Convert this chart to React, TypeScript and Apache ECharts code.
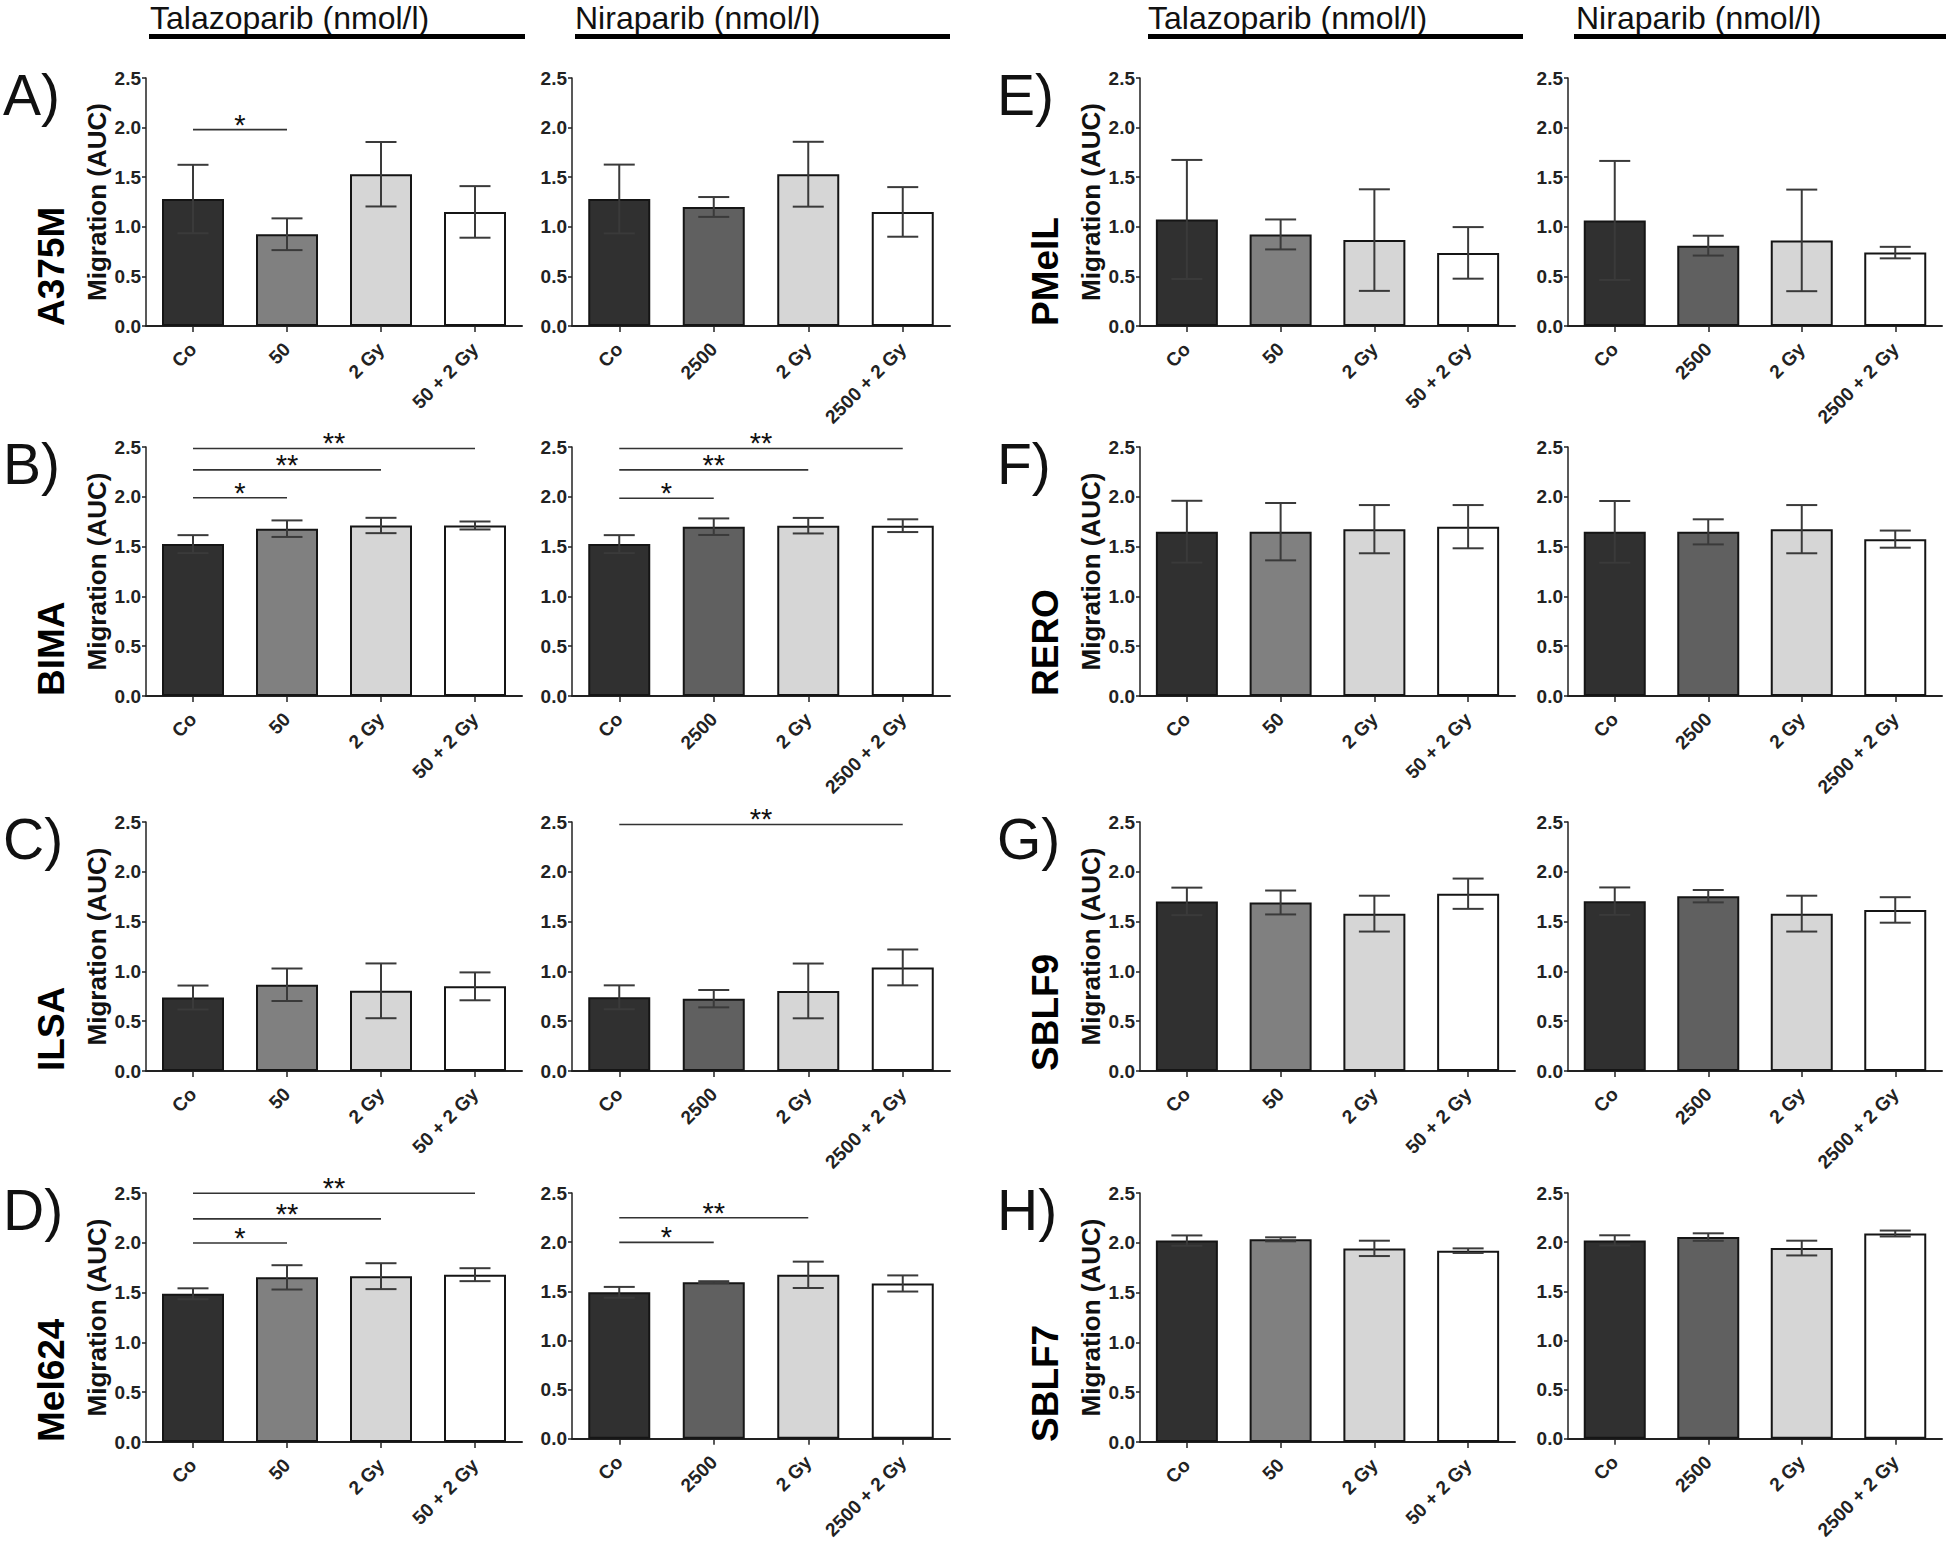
import React, { useEffect, useRef } from "react";
import * as echarts from "echarts";

// ---------- categories ----------
const talaCats = ["Co", "50", "2 Gy", "50 + 2 Gy"];
const niraCats = ["Co", "2500", "2 Gy", "2500 + 2 Gy"];
const talaColors = ["#303030", "#808080", "#d6d6d6", "#ffffff"];
const niraColors = ["#303030", "#606060", "#d6d6d6", "#ffffff"];
const yMin = 0;
const yMax = 2.5;
const yStep = 0.5;

// ---------- values (mean) and SD ----------
const a375mTala = [1.28, 0.925, 1.53, 1.15];
const a375mTalaErr = [0.345, 0.16, 0.325, 0.26];
const a375mNira = [1.28, 1.2, 1.53, 1.15];
const a375mNiraErr = [0.347, 0.1, 0.327, 0.25];

const bimaTala = [1.525, 1.68, 1.712, 1.712];
const bimaTalaErr = [0.09, 0.083, 0.077, 0.04];
const bimaNira = [1.525, 1.7, 1.71, 1.71];
const bimaNiraErr = [0.09, 0.083, 0.078, 0.064];

const ilsaTala = [0.738, 0.866, 0.805, 0.85];
const ilsaTalaErr = [0.12, 0.163, 0.275, 0.14];
const ilsaNira = [0.74, 0.726, 0.804, 1.04];
const ilsaNiraErr = [0.12, 0.087, 0.275, 0.18];

const mel624Tala = [1.488, 1.653, 1.665, 1.68];
const mel624TalaErr = [0.055, 0.122, 0.13, 0.065];
const mel624Nira = [1.49, 1.593, 1.668, 1.58];
const mel624NiraErr = [0.055, 0.01, 0.134, 0.082];

const pmelTala = [1.074, 0.923, 0.866, 0.737];
const pmelTalaErr = [0.6, 0.151, 0.512, 0.26];
const pmelNira = [1.064, 0.81, 0.863, 0.74];
const pmelNiraErr = [0.6, 0.1, 0.512, 0.058];

const reroTala = [1.65, 1.65, 1.675, 1.7];
const reroTalaErr = [0.31, 0.288, 0.242, 0.217];
const reroNira = [1.648, 1.648, 1.675, 1.575];
const reroNiraErr = [0.31, 0.126, 0.242, 0.086];

const sblf9Tala = [1.703, 1.692, 1.58, 1.78];
const sblf9TalaErr = [0.138, 0.12, 0.18, 0.152];
const sblf9Nira = [1.705, 1.755, 1.58, 1.617];
const sblf9NiraErr = [0.138, 0.062, 0.18, 0.128];

const sblf7Tala = [2.022, 2.035, 1.944, 1.921];
const sblf7TalaErr = [0.052, 0.02, 0.077, 0.023];
const sblf7Nira = [2.018, 2.052, 1.94, 2.088];
const sblf7NiraErr = [0.052, 0.038, 0.075, 0.03];

// ---------- significance brackets: [fromIdx, toIdx, y, stars] ----------
const a375mTalaSig = [[0, 1, 1.98, 1]];
const bimaTalaSig = [[0, 1, 1.99, 1], [0, 2, 2.27, 2], [0, 3, 2.485, 2]];
const bimaNiraSig = [[0, 1, 1.985, 1], [0, 2, 2.27, 2], [0, 3, 2.485, 2]];
const ilsaNiraSig = [[0, 3, 2.475, 2]];
const mel624TalaSig = [[0, 1, 1.998, 1], [0, 2, 2.24, 2], [0, 3, 2.497, 2]];
const mel624NiraSig = [[0, 1, 1.998, 1], [0, 2, 2.248, 2]];

// ---------- labels ----------
const drugHeaders = ["Talazoparib (nmol/l)", "Niraparib (nmol/l)", "Talazoparib (nmol/l)", "Niraparib (nmol/l)"];
const panelLetters = ["A)", "B)", "C)", "D)", "E)", "F)", "G)", "H)"];
const cellLines = ["A375M", "BIMA", "ILSA", "Mel624", "PMelL", "RERO", "SBLF9", "SBLF7"];
const yAxisTitle = "Migration (AUC)";

// ---------- layout ----------
const colLeft = [146, 572, 1140, 1568];
const colWidth = [376, 378, 375, 374];
const rowTop = [78, 447, 822, 1193];
const rowHeight = [248, 249, 249, 249];
const headerTextX = [150, 575, 1148, 1576];
const headerLine = [[149, 376], [575, 375], [1148, 375], [1574, 372]];

const FONT = "'Liberation Sans', Arial, Helvetica, sans-serif";

const panels = [
  { row: 0, half: 0, kind: "t", vals: a375mTala, errs: a375mTalaErr, sig: a375mTalaSig },
  { row: 0, half: 0, kind: "n", vals: a375mNira, errs: a375mNiraErr, sig: [] },
  { row: 1, half: 0, kind: "t", vals: bimaTala, errs: bimaTalaErr, sig: bimaTalaSig },
  { row: 1, half: 0, kind: "n", vals: bimaNira, errs: bimaNiraErr, sig: bimaNiraSig },
  { row: 2, half: 0, kind: "t", vals: ilsaTala, errs: ilsaTalaErr, sig: [] },
  { row: 2, half: 0, kind: "n", vals: ilsaNira, errs: ilsaNiraErr, sig: ilsaNiraSig },
  { row: 3, half: 0, kind: "t", vals: mel624Tala, errs: mel624TalaErr, sig: mel624TalaSig },
  { row: 3, half: 0, kind: "n", vals: mel624Nira, errs: mel624NiraErr, sig: mel624NiraSig },
  { row: 0, half: 1, kind: "t", vals: pmelTala, errs: pmelTalaErr, sig: [] },
  { row: 0, half: 1, kind: "n", vals: pmelNira, errs: pmelNiraErr, sig: [] },
  { row: 1, half: 1, kind: "t", vals: reroTala, errs: reroTalaErr, sig: [] },
  { row: 1, half: 1, kind: "n", vals: reroNira, errs: reroNiraErr, sig: [] },
  { row: 2, half: 1, kind: "t", vals: sblf9Tala, errs: sblf9TalaErr, sig: [] },
  { row: 2, half: 1, kind: "n", vals: sblf9Nira, errs: sblf9NiraErr, sig: [] },
  { row: 3, half: 1, kind: "t", vals: sblf7Tala, errs: sblf7TalaErr, sig: [] },
  { row: 3, half: 1, kind: "n", vals: sblf7Nira, errs: sblf7NiraErr, sig: [] },
];

function buildOption() {
  const grid: any[] = [];
  const xAxis: any[] = [];
  const yAxis: any[] = [];
  const series: any[] = [];
  const graphic: any[] = [];

  panels.forEach((p, idx) => {
    const col = p.half * 2 + (p.kind === "t" ? 0 : 1);
    const cats = p.kind === "t" ? talaCats : niraCats;
    const colors = p.kind === "t" ? talaColors : niraColors;
    grid.push({
      left: colLeft[col],
      top: rowTop[p.row],
      width: colWidth[col],
      height: rowHeight[p.row],
      containLabel: false,
    });
    xAxis.push({
      type: "category",
      gridIndex: idx,
      data: cats,
      boundaryGap: true,
      axisLine: { show: true, lineStyle: { color: "#222", width: 2 } },
      axisTick: { show: true, alignWithLabel: true, length: 6, lineStyle: { color: "#222", width: 1.5 } },
      axisLabel: {
        interval: 0,
        rotate: 45,
        margin: 20,
        fontSize: 19,
        fontWeight: "bold",
        fontFamily: FONT,
        color: "#222",
      },
      splitLine: { show: false },
    });
    yAxis.push({
      type: "value",
      gridIndex: idx,
      min: yMin,
      max: yMax,
      interval: yStep,
      name: p.kind === "t" ? yAxisTitle : "",
      nameLocation: "middle",
      nameRotate: 90,
      nameGap: 36,
      nameTextStyle: { fontSize: 26, fontWeight: "bold", fontFamily: FONT, color: "#111" },
      axisLine: { show: true, lineStyle: { color: "#222", width: 1.5 } },
      axisTick: { show: true, length: 4, lineStyle: { color: "#222", width: 1.5 } },
      axisLabel: {
        margin: 5,
        fontSize: 19,
        fontWeight: "bold",
        fontFamily: FONT,
        color: "#222",
        formatter: (v: number) => v.toFixed(1),
      },
      splitLine: { show: false },
    });
    series.push({
      type: "bar",
      xAxisIndex: idx,
      yAxisIndex: idx,
      barWidth: 62,
      data: p.vals.map((v, i) => ({
        value: v,
        itemStyle: { color: colors[i], borderColor: "#151515", borderWidth: 2 },
      })),
      z: 2,
    });
    series.push({
      type: "custom",
      xAxisIndex: idx,
      yAxisIndex: idx,
      z: 3,
      clip: false,
      data: p.vals.map((v, i) => [i, v, p.errs[i]]),
      renderItem: (params: any, api: any) => {
        const i = api.value(0);
        const m = api.value(1);
        const e = api.value(2);
        const t = api.coord([i, m + e]);
        const b = api.coord([i, m - e]);
        const hw = 15.5;
        const style = { stroke: "#3a3a3a", lineWidth: 2 };
        return {
          type: "group",
          children: [
            { type: "line", shape: { x1: t[0], y1: t[1], x2: b[0], y2: b[1] }, style },
            { type: "line", shape: { x1: t[0] - hw, y1: t[1], x2: t[0] + hw, y2: t[1] }, style },
            { type: "line", shape: { x1: b[0] - hw, y1: b[1], x2: b[0] + hw, y2: b[1] }, style },
          ],
        };
      },
    });
    if (p.sig.length) {
      series.push({
        type: "custom",
        xAxisIndex: idx,
        yAxisIndex: idx,
        z: 4,
        clip: false,
        data: p.sig,
        renderItem: (params: any, api: any) => {
          const a = api.coord([api.value(0), api.value(2)]);
          const b = api.coord([api.value(1), api.value(2)]);
          const n = api.value(3);
          return {
            type: "group",
            children: [
              {
                type: "line",
                shape: { x1: a[0], y1: a[1], x2: b[0], y2: b[1] },
                style: { stroke: "#333", lineWidth: 1.6 },
              },
              {
                type: "text",
                x: (a[0] + b[0]) / 2,
                y: a[1] - 5,
                style: {
                  text: "*".repeat(n),
                  fontSize: 29,
                  fontFamily: FONT,
                  fill: "#111",
                  textAlign: "center",
                  textVerticalAlign: "middle",
                },
              },
            ],
          };
        },
      });
    }
  });

  // headers
  drugHeaders.forEach((h, c) => {
    graphic.push({
      type: "text",
      x: headerTextX[c],
      y: 2,
      style: { text: h, fontSize: 32, fontFamily: FONT, fill: "#111", textVerticalAlign: "top" },
    });
    graphic.push({
      type: "rect",
      shape: { x: headerLine[c][0], y: 34, width: headerLine[c][1], height: 5 },
      style: { fill: "#000" },
    });
  });

  // panel letters and cell line names
  panelLetters.forEach((L, k) => {
    const half = k < 4 ? 0 : 1;
    const row = k % 4;
    const axisX = colLeft[half * 2];
    graphic.push({
      type: "text",
      x: axisX - 143,
      y: rowTop[row] - 12,
      style: { text: L, fontSize: 57, fontFamily: FONT, fill: "#111", textVerticalAlign: "top" },
    });
    graphic.push({
      type: "text",
      x: axisX - 95,
      y: rowTop[row] + rowHeight[row],
      rotation: Math.PI / 2,
      style: {
        text: cellLines[k],
        fontSize: 37,
        fontWeight: "bold",
        fontFamily: FONT,
        fill: "#000",
        textAlign: "left",
        textVerticalAlign: "middle",
      },
    });
  });

  return {
    animation: false,
    backgroundColor: "#ffffff",
    grid,
    xAxis,
    yAxis,
    series,
    graphic,
  };
}

export default function App() {
  const ref = useRef<HTMLDivElement>(null);
  useEffect(() => {
    if (!ref.current) return;
    const chart = echarts.init(ref.current, undefined, { renderer: "svg" });
    chart.setOption(buildOption() as any);
    return () => chart.dispose();
  }, []);
  return (
    <div
      ref={ref}
      style={{ position: "absolute", left: 0, top: 0, width: 1946, height: 1542, background: "#fff" }}
    />
  );
}
